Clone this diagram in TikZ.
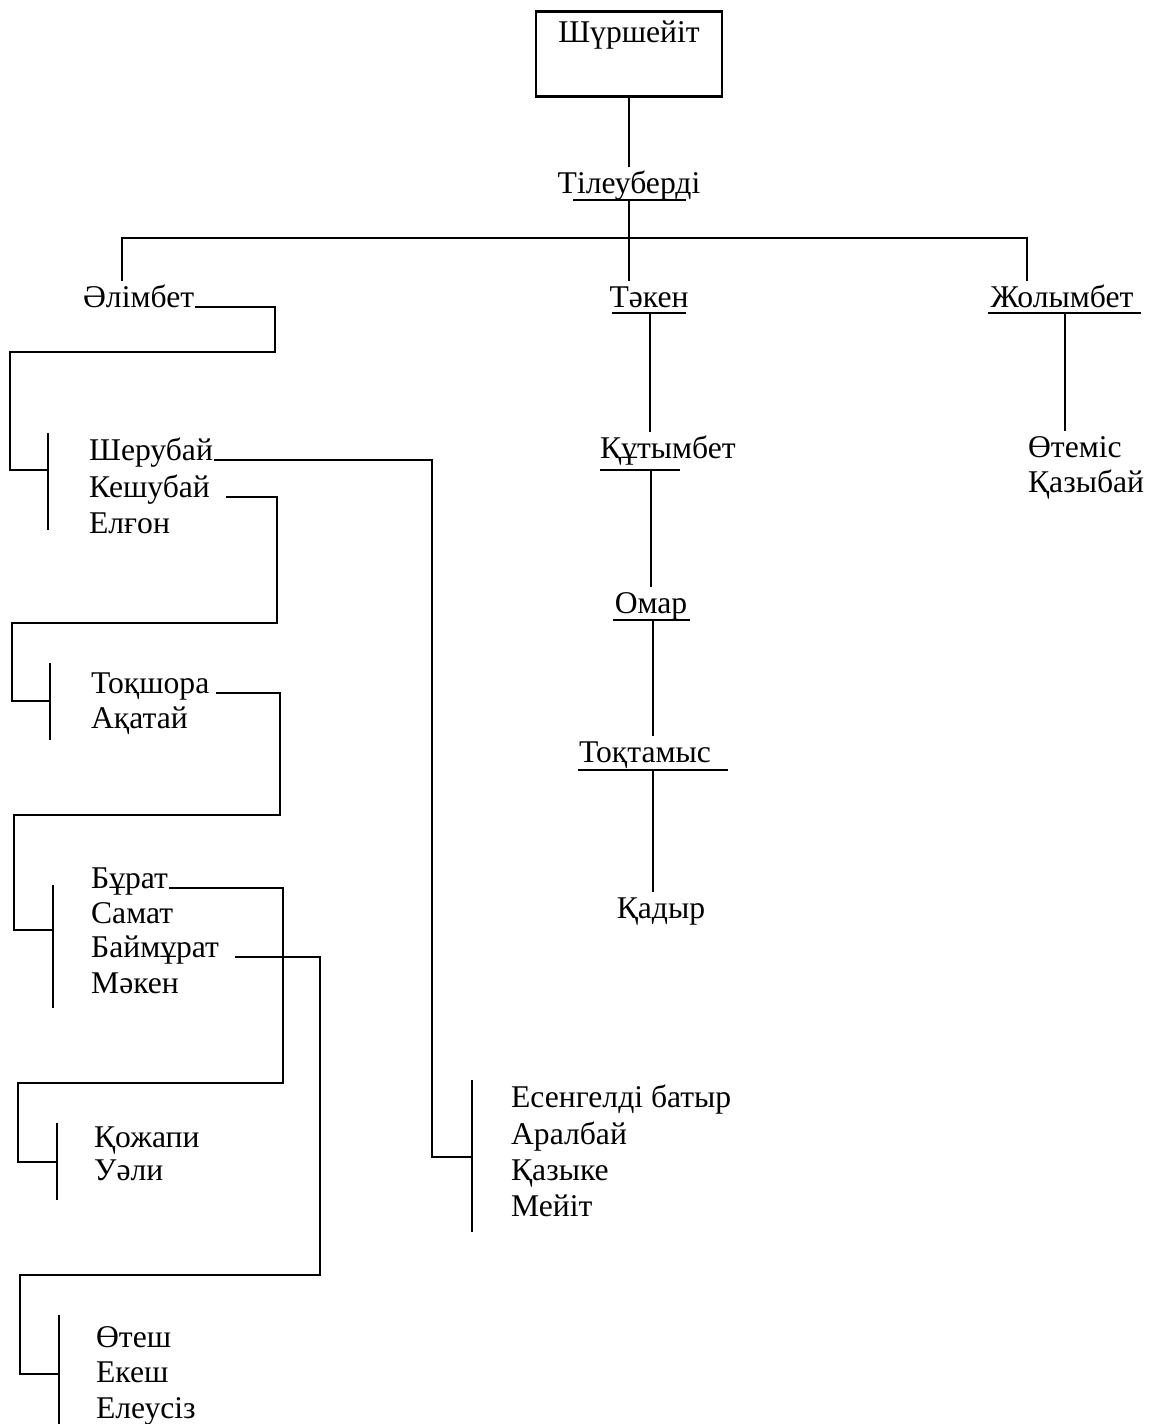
\documentclass[tikz,border=0pt]{standalone}
\usepackage{fontspec}
\setmainfont{Liberation Serif}
\usetikzlibrary{positioning}

\begin{document}
\begin{tikzpicture}[x=0.02cm, y=-0.02cm, line width=1.3pt,
  person/.style={inner sep=0pt, font=\fontsize{18}{21}\selectfont, text height=0.5cm, text depth=0.12cm},
  lperson/.style={person, anchor=base west},
  cperson/.style={person, anchor=base}]
  \useasboundingbox (0,0) rectangle (1152,1424);
  % root box
  \node[draw, line width=1.6pt, inner sep=0pt, minimum width=3.72cm, minimum height=1.7cm,
        text height=0.62cm, text depth=1.08cm, anchor=north, font=\fontsize{18}{21}\selectfont]
        (shur) at (629,10) {Шүршейіт};
  % middle and right names
  \node[cperson] (tile) at (629,193) {Тілеуберді};
  \node[lperson] (alim) at (82,307) {Әлімбет};
  \node[cperson] (taken) at (649,307) {Тәкен};
  \node[cperson] (zhol) at (1062,307) {Жолымбет};
  \node[cperson] (kutym) at (668,458) {Құтымбет};
  \node[cperson] (omar) at (651,613) {Омар};
  \node[cperson] (toktam) at (645,762) {Тоқтамыс};
  \node[cperson] (kadyr) at (661,918) {Қадыр};
  \node[lperson] (otem) at (1027,457) {Өтеміс};
  \node[lperson] (kazyb) at (1027,492) {Қазыбай};
  % left groups
  \foreach \n/\t/\x/\y in {sher/Шерубай/88/460, kesh/Кешубай/88/497, elgon/Елғон/88/533,
      toksh/Тоқшора/90/693, akat/Ақатай/90/728,
      burat/Бұрат/90/888, samat/Самат/90/923, baim/Баймұрат/90/957, maken/Мәкен/90/993,
      kozh/Қожапи/93/1147, uali/Уәли/93/1180,
      otesh/Өтеш/95/1347, ekesh/Екеш/95/1382, eleus/Елеусіз/95/1418,
      esen/Есенгелді батыр/510/1107, aral/Аралбай/510/1144, kazyk/Қазыке/510/1180, meyit/Мейіт/510/1216}
    \node[lperson] (\n) at (\x,\y) {\t};
  % underlines
  \coordinate (tileu) at (629,200);
  \coordinate (takenu) at (650,313);
  \coordinate (zholu) at (1065,313);
  \coordinate (kutymu) at (651,470);
  \coordinate (omaru) at (653,620);
  \coordinate (toktamu) at (653,770);
  \draw (573,200) -- (686,200) (612,313) -- (686,313) (988,313) -- (1141,313)
        (600,470) -- (680,470) (613,620) -- (690,620) (578,770) -- (728,770);
  % brackets
  \foreach \x/\a/\b in {48/433/530, 50/663/740, 53/885/1008, 57/1123/1200, 59/1315/1424, 472/1080/1232}
    \draw (\x,\a) -- (\x,\b);
  \coordinate (g1) at (48,470);
  \coordinate (g2) at (50,701);
  \coordinate (g3) at (53,930);
  \coordinate (g4) at (57,1162);
  \coordinate (g5) at (59,1374);
  \coordinate (g6) at (472,1157);
  % trunk
  \coordinate (barL) at (122,238);
  \coordinate (barR) at (1027,238);
  \draw (shur) -- (tile);
  \draw (tileu) -- (tileu |- taken.north);
  \draw (alim.north -| barL) -- (barL) -- (barR) -- (barR |- zhol.north);
  \draw (takenu) -- (takenu |- kutym.north);
  \draw (kutymu) -- (kutymu |- omar.north);
  \draw (omaru) -- (omaru |- toktam.north);
  \draw (toktamu) -- (toktamu |- kadyr.north);
  \draw (zholu) -- (zholu |- otem.north);
  % elbow links
  \draw (alim.base east) -| (275,352) -| (10,470) -- (g1);
  \draw (sher.base east) -| (432,1157) -- (g6);
  \draw ([xshift=0.3cm]kesh.base east) -| (277,623) -| (12,701) -- (g2);
  \draw ([xshift=0.12cm]toksh.base east) -| (280,815) -| (14,930) -- (g3);
  \draw (burat.base east) -| (283,1083) -| (18,1162) -- (g4);
  \draw ([xshift=0.3cm]baim.base east) -| (320,1275) -| (20,1374) -- (g5);
\end{tikzpicture}
\end{document}
